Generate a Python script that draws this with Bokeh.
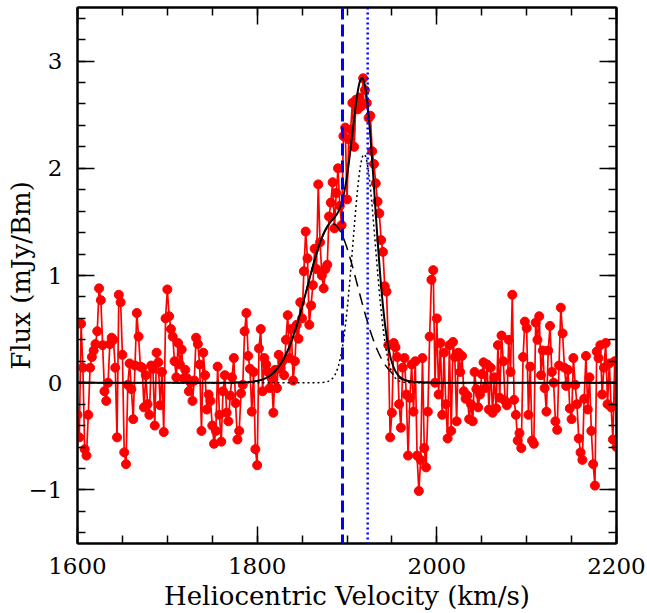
import numpy as np
from bokeh.plotting import figure
from bokeh.models import Range1d, LinearAxis, SingleIntervalTicker, Span, ColumnDataSource
from bokeh.embed import file_html
from bokeh.resources import INLINE

# ---- data: HI spectrum channels ----
v_start = 1600.0          # km/s, first channel
chan_width = 2.0          # km/s
flux = [
    -0.30, -0.51, 0.55, 0.14, -0.62, -0.68, -0.30, 0.14, 0.24, 0.30,
    0.36, 0.48, 0.88, 0.77, 0.35, -0.08, -0.17, 0.00, 0.36, 0.42,
    0.40, 0.14, -0.51, 0.82, 0.75, 0.26, -0.65, -0.76, -0.02, 0.18,
    -0.06, -0.34, 0.16, 0.65, 0.43, 0.15, 0.14, -0.23, 0.07, -0.20,
    -0.30, 0.16, 0.13, -0.40, 0.28, 0.19, -0.21, 0.10, -0.46, 0.60,
    0.87, 0.62, 0.50, 0.43, 0.20, 0.05, 0.37, 0.17, 0.31, 0.04,
    0.12, 0.04, -0.08, 0.00, -0.17, 0.02, 0.42, 0.36, 0.17, -0.45,
    0.28, 0.07, -0.25, -0.11, -0.17, -0.40, -0.57, -0.45, 0.15, -0.30,
    -0.55, -0.08, 0.07, -0.28, -0.36, -0.12, 0.05, 0.23, -0.19, -0.53,
    -0.45, -0.10, -0.02, 0.48, 0.65, 0.25, 0.13, -0.27, 0.10, -0.62,
    -0.77, 0.32, 0.50, -0.08, 0.23, 0.17, 0.10, -0.05, 0.04, -0.28,
    0.12, -0.05, 0.26, 0.13, 0.20, 0.07, 0.40, 0.63, 0.23, 0.50,
    0.02, 0.20, 0.54, 0.41, 0.75, 0.60, 1.04, 1.41, 1.16, 0.54,
    0.72, 0.91, 1.25, 1.06, 1.85, 1.31, 1.00, 0.88, 1.06, 1.10,
    1.55, 1.68, 1.87, 1.44, 1.77, 2.00, 1.65, 1.47, 2.30, 2.38,
    1.71, 2.27, 2.36, 2.61, 2.20, 2.64, 2.55, 2.66, 2.58, 2.84,
    2.73, 2.61, 2.47, 2.49, 2.16, 2.04, 1.86, 1.69, 1.58, 1.33,
    1.22, 0.90, 0.85, 0.35, -0.51, -0.28, 0.37, 0.33, 0.24, -0.20,
    -0.42, 0.14, 0.23, -0.11, -0.68, -0.14, 0.17, -0.27, 0.20, -0.68,
    -1.01, -0.72, 0.23, -0.61, -0.79, -0.27, 0.43, 0.96, 1.05, 0.00,
    0.60, -0.11, 0.37, -0.30, 0.28, -0.20, -0.52, 0.35, -0.45, 0.38,
    0.24, -0.36, 0.28, 0.10, 0.25, -0.08, -0.15, -0.12, -0.34, -0.20,
    -0.36, 0.10, -0.06, -0.23, -0.11, 0.08, 0.19, -0.05, 0.17, -0.25,
    0.14, -0.28, 0.05, -0.24, 0.35, -0.14, 0.44, 0.20, -0.17, -0.21,
    0.40, 0.10, 0.82, -0.16, -0.30, -0.54, -0.47, -0.61, 0.24, 0.57,
    0.51, -0.30, 0.15, -0.54, -0.57, 0.56, 0.40, 0.62, 0.07, 0.30,
    -0.05, -0.27, 0.30, 0.53, 0.10, 0.00, -0.36, -0.44, 0.16, 0.70,
    0.46, 0.14, -0.03, 0.12, -0.24, -0.34, 0.23, -0.02, -0.20, -0.52,
    -0.65, -0.72, -0.15, 0.25, -0.25, 0.05, -0.45, -0.76, -0.96, 0.29,
    0.23, 0.35, -0.11, 0.14, 0.37, -0.20, 0.18, -0.23, -0.53, 0.20,
    -0.60,
]
velocity = v_start + chan_width * np.arange(len(flux))

# ---- two-component Gaussian fit parameters ----
g1_amp, g1_cen, g1_sig = 1.48, 1884.0, 28.0   # dashed component
g2_amp, g2_cen, g2_sig = 2.13, 1919.0, 12.5   # dotted component

# ---- reference velocities (vertical lines) ----
v_dashed_line = 1895.0
v_dotted_line = 1923.0

x_ticks_major = 200
y_ticks_major = 1

vm = np.linspace(1600, 2200, 1201)
comp1 = g1_amp * np.exp(-(vm - g1_cen) ** 2 / (2 * g1_sig ** 2))
comp2 = g2_amp * np.exp(-(vm - g2_cen) ** 2 / (2 * g2_sig ** 2))
total = comp1 + comp2

FONT = "DejaVu Serif"

p = figure(width=647, height=613, output_backend="svg", toolbar_location=None,
           x_range=Range1d(1600, 2200), y_range=Range1d(-1.5, 3.5),
           min_border_left=77, min_border_right=31, min_border_top=7, min_border_bottom=66)
p.xgrid.grid_line_color = None
p.ygrid.grid_line_color = None
p.outline_line_color = "black"
p.outline_line_width = 2
p.background_fill_color = "white"
p.border_fill_color = "white"

def style_axis(ax, labels=True):
    ax.major_tick_in = 17
    ax.major_tick_out = 0
    ax.minor_tick_in = 8
    ax.minor_tick_out = 0
    ax.axis_line_width = 2
    ax.axis_line_color = "black"
    ax.major_tick_line_width = 1.5
    ax.minor_tick_line_width = 1.5
    ax.major_tick_line_color = "black"
    ax.minor_tick_line_color = "black"
    if labels:
        ax.major_label_text_font = FONT
        ax.major_label_text_font_size = "23px"
        ax.major_label_text_color = "black"
        ax.axis_label_text_font = FONT
        ax.axis_label_text_font_size = "26px"
        ax.axis_label_text_font_style = "normal"
        ax.axis_label_text_color = "black"
    else:
        ax.major_label_text_font_size = "1px"
        ax.major_label_text_color = None
        ax.major_label_standoff = 0

xt = SingleIntervalTicker(interval=x_ticks_major, num_minor_ticks=4)
yt = SingleIntervalTicker(interval=y_ticks_major, num_minor_ticks=5)

p.xaxis.ticker = xt
p.yaxis.ticker = yt
p.xaxis.axis_label = "Heliocentric Velocity (km/s)"
p.yaxis.axis_label = "Flux (mJy/Bm)"
for ax in p.xaxis + p.yaxis:
    style_axis(ax)
p.xaxis.major_label_standoff = 14
p.xaxis.axis_label_standoff = 4
p.yaxis.major_label_standoff = 15
p.yaxis.axis_label_standoff = -10
p.yaxis.major_label_overrides = {-1: "\u22121"}

top = LinearAxis(ticker=SingleIntervalTicker(interval=x_ticks_major, num_minor_ticks=4))
style_axis(top, labels=False)
p.add_layout(top, "above")
right = LinearAxis(ticker=SingleIntervalTicker(interval=y_ticks_major, num_minor_ticks=5))
style_axis(right, labels=False)
p.add_layout(right, "right")

src = ColumnDataSource(dict(v=velocity, f=flux))
p.line("v", "f", source=src, line_color="#ff0000", line_width=1.7)
p.scatter("v", "f", source=src, size=9, fill_color="#ff0000", line_color="#ff0000")

p.line(vm, comp2, line_color="black", line_width=1.5, line_dash="2 3")
p.line(vm, comp1, line_color="black", line_width=1.5, line_dash="12 7")
p.line(vm, total, line_color="black", line_width=2)

p.add_layout(Span(location=v_dashed_line, dimension="height", line_color="#0000ff",
                  line_width=3, line_dash="12 5"))
p.add_layout(Span(location=v_dotted_line, dimension="height", line_color="#0000ff",
                  line_width=2.5, line_dash="2 3"))

open("out.html", "w").write(file_html(p, INLINE))
